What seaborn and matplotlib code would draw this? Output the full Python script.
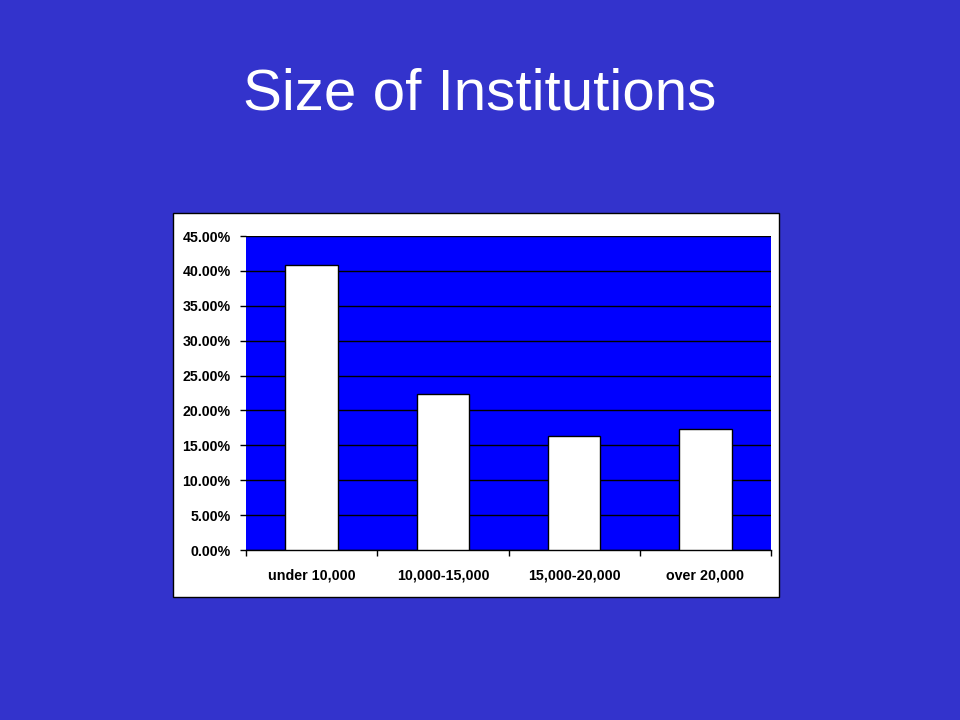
import matplotlib
matplotlib.use("Agg")
import matplotlib.pyplot as plt
import seaborn as sns
import pandas as pd
from matplotlib.patches import Rectangle
from matplotlib.ticker import FixedLocator

categories = ["under 10,000", "10,000-15,000", "15,000-20,000", "over 20,000"]
values = [40.9, 22.3, 16.4, 17.4]
yticks = [0, 5, 10, 15, 20, 25, 30, 35, 40, 45]

df = pd.DataFrame({"cat": categories, "val": values})

sns.set_theme(style="white")
plt.rcParams["font.family"] = ["Liberation Sans", "DejaVu Sans"]

fig = plt.figure(figsize=(9.6, 7.2), dpi=100)
fig.patch.set_facecolor("#3333CC")

# white chart box
box = Rectangle((173/960, 1-597/720), (779-173)/960, (597-213)/720,
                transform=fig.transFigure, facecolor="white",
                edgecolor="black", linewidth=1, zorder=-5)
fig.patches.append(box)

fig.text(0.5, 1-95/720, "Size of Institutions", ha="center", va="center",
         color="white", fontsize=42)

ax = fig.add_axes([246/960, 1-550/720, (771-246)/960, (550-236)/720])
ax.set_zorder(1)
ax.set_facecolor("#0000FF")
sns.barplot(data=df, x="cat", y="val", color="white", edgecolor="black",
            linewidth=1, width=0.4, saturation=1, ax=ax, zorder=3)
ax.set_xlim(-0.5, 3.5)
ax.set_ylim(0, 45)
ax.set_yticks(yticks)
ax.set_yticklabels([f"{v:.2f}%" for v in yticks], fontsize=10.2, fontweight="bold", color="black")
ax.yaxis.grid(True, color="black", linewidth=1)
ax.set_axisbelow(True)
ax.set_xticks(range(len(categories)))
ax.set_xticklabels(categories, fontsize=10.3, fontweight="bold", color="black")
ax.xaxis.set_minor_locator(FixedLocator([-0.5, 0.5, 1.5, 2.5, 3.5]))
ax.tick_params(axis="x", which="major", length=0, pad=13)
ax.tick_params(axis="x", which="minor", length=4, width=1, color="black", bottom=True)
ax.tick_params(axis="y", which="major", length=4, width=1, color="black", left=True, pad=7)
ax.set_xlabel("")
ax.set_ylabel("")
for s in ["top", "right", "left"]:
    ax.spines[s].set_visible(False)
ax.spines["bottom"].set_color("black")
ax.spines["bottom"].set_linewidth(1)

fig.savefig("out.png", dpi=100, facecolor=fig.get_facecolor())
